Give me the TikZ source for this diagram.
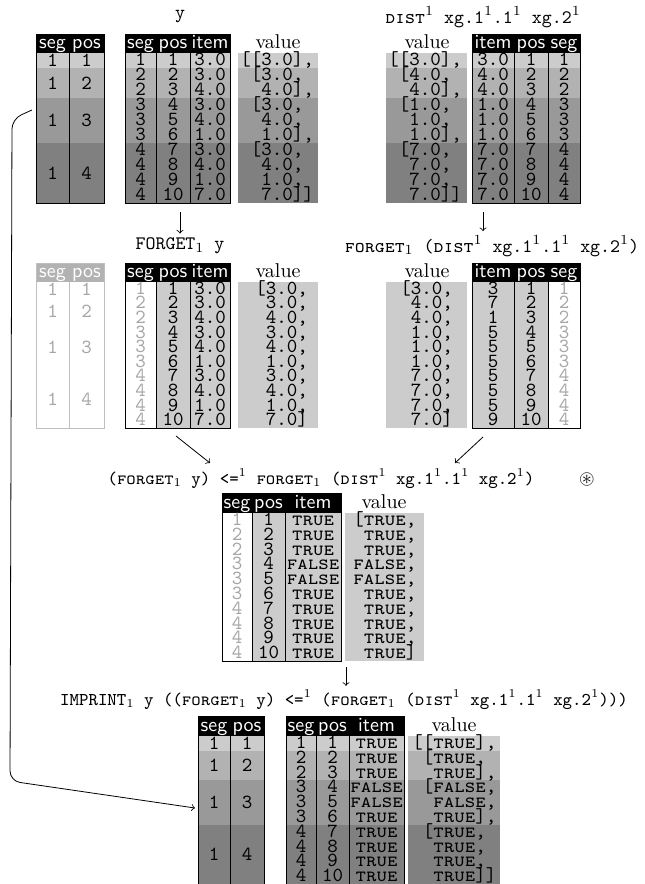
\documentclass[tikz,border=0pt]{standalone}
\usepackage{amssymb}

\colorlet{sgA}{black!20}
\colorlet{sgB}{black!30}
\colorlet{sgC}{black!40}
\colorlet{sgD}{black!50}
\colorlet{faded}{black!35}

\newcommand{\distOne}{\textsc{dist}$^1$}
\newcommand{\fgtOne}{\textsc{forget}$_1$}
\newcommand{\xgArgs}{xg.1$^1$.1$^1$ xg.2$^1$}

\tikzset{
  hdr/.style={font=\sffamily, text=white, inner sep=0pt, anchor=base},
  cell/.style={font=\ttfamily, inner sep=0pt, anchor=base},
  mid/.style={font=\ttfamily, inner sep=0pt},
  vtxt/.style={font=\ttfamily, inner sep=0pt, anchor=base west},
  vhd/.style={inner sep=0pt, anchor=base},
  lbl/.style={font=\fontsize{9.5}{11}\selectfont\ttfamily, inner sep=2pt},
}

\begin{document}
\begin{tikzpicture}[x=0.5pt,y=-0.5pt,line width=0.4pt]
\useasboundingbox (0,0) rectangle (644,884);

%% top row
\node[lbl] (ylbl) at (180,17) {y};
\node[lbl] (dlbl) at (483,17) {\distOne{} \xgArgs};

\foreach \ya/\yb/\c in {53/68/sgA,68/98/sgB,98/143/sgC,143/203/sgD}{
  \fill[\c] (36,\ya) rectangle (104,\yb);
  \fill[\c] (125,\ya) rectangle (230,\yb);
  \fill[\c] (238,\ya) rectangle (318,\yb);
  \fill[\c] (386,\ya) rectangle (467,\yb);
  \fill[\c] (472,\ya) rectangle (580,\yb);
}
\fill (36,34) rectangle (104,53);
\fill (125,34) rectangle (230,53);
\fill (472,34) rectangle (580,53);
\draw (36,34) rectangle (104,203) (69,53) -- (69,203);
\draw (125,34) rectangle (230,203) (156,53) -- (156,203) (190,53) -- (190,203);
\draw (472,34) rectangle (580,203) (514,53) -- (514,203) (548,53) -- (548,203);

\node[hdr] (a1hs) at (52.5,48) {seg};
\node[hdr] (a1hp) at (86.5,48) {pos};
\node[hdr] (b1hs) at (140.5,48) {seg};
\node[hdr] (b1hp) at (173,48) {pos};
\node[hdr] (b1hi) at (210,48) {item};
\node[vhd] (v1h) at (278,48) {value};
\node[vhd] (v2h) at (427,48) {value};
\node[hdr] (c1hi) at (493,48) {item};
\node[hdr] (c1hp) at (531,48) {pos};
\node[hdr] (c1hs) at (564,48) {seg};

\foreach \y/\n in {60.5/1,83/2,120.5/3,173/4}{
  \node[mid] (a1s\n) at (52.5,\y) {1};
  \node[mid] (a1p\n) at (86.5,\y) {\n};
}
\foreach \s/\a/\b/\va/\vb [count=\i] in {
    1/3.0/3.0/{[[3.0],}/{[[3.0],},
    2/3.0/4.0/{~[3.0,}/{~[4.0,},
    2/4.0/4.0/{~~4.0],}/{~~4.0],},
    3/3.0/1.0/{~[3.0,}/{~[1.0,},
    3/4.0/1.0/{~~4.0,}/{~~1.0,},
    3/1.0/1.0/{~~1.0],}/{~~1.0],},
    4/3.0/7.0/{~[3.0,}/{~[7.0,},
    4/4.0/7.0/{~~4.0,}/{~~7.0,},
    4/1.0/7.0/{~~1.0,}/{~~7.0,},
    4/7.0/7.0/{~~7.0]]}/{~~7.0]]}}{
  \node[cell] (b1s\i) at (140.5,{53+15*\i-2.5}) {\s};
  \node[cell] (b1p\i) at (173,{53+15*\i-2.5}) {\i};
  \node[cell] (b1i\i) at (210,{53+15*\i-2.5}) {\a};
  \node[vtxt] (v1l\i) at (240,{53+15*\i-2.5}) {\va};
  \node[vtxt] (v2l\i) at (388,{53+15*\i-2.5}) {\vb};
  \node[cell] (c1i\i) at (493,{53+15*\i-2.5}) {\b};
  \node[cell] (c1p\i) at (531,{53+15*\i-2.5}) {\i};
  \node[cell] (c1s\i) at (564,{53+15*\i-2.5}) {\s};
}

%% middle row
\node[lbl] (fylbl) at (180,246) {FORGET$_1$ y};
\node[lbl] (fdlbl) at (492,246) {\fgtOne{} (\distOne{} \xgArgs)};

\fill[black!30] (36,263) rectangle (104,282);
\draw[black!25] (36,263) rectangle (104,428) (69,282) -- (69,428);
\fill[black!20] (156,282) rectangle (230,428);
\fill[black!20] (238,282) rectangle (318,428);
\fill[black!20] (386,282) rectangle (467,428);
\fill[black!20] (472,282) rectangle (548,428);
\fill (125,263) rectangle (230,282);
\fill (472,263) rectangle (580,282);
\draw (125,263) rectangle (230,428) (156,282) -- (156,428) (190,282) -- (190,428);
\draw (472,263) rectangle (580,428) (514,282) -- (514,428) (548,282) -- (548,428);

\node[hdr] (a2hs) at (52.5,277) {seg};
\node[hdr] (a2hp) at (86.5,277) {pos};
\node[hdr] (b2hs) at (140.5,277) {seg};
\node[hdr] (b2hp) at (173,277) {pos};
\node[hdr] (b2hi) at (210,277) {item};
\node[vhd] (v3h) at (278,277) {value};
\node[vhd] (v4h) at (427,277) {value};
\node[hdr] (c2hi) at (493,277) {item};
\node[hdr] (c2hp) at (531,277) {pos};
\node[hdr] (c2hs) at (564,277) {seg};

\foreach \y/\n in {289.3/1,311.2/2,347.7/3,398.8/4}{
  \node[mid,text=faded] (a2s\n) at (52.5,\y) {1};
  \node[mid,text=faded] (a2p\n) at (86.5,\y) {\n};
}
\foreach \s/\a/\b/\va/\vb [count=\i] in {
    1/3.0/3/{[3.0,}/{[3.0,},
    2/3.0/7/{~3.0,}/{~4.0,},
    2/4.0/1/{~4.0,}/{~4.0,},
    3/3.0/5/{~3.0,}/{~1.0,},
    3/4.0/5/{~4.0,}/{~1.0,},
    3/1.0/5/{~1.0,}/{~1.0,},
    4/3.0/5/{~3.0,}/{~7.0,},
    4/4.0/5/{~4.0,}/{~7.0,},
    4/1.0/5/{~1.0,}/{~7.0,},
    4/7.0/9/{~7.0]}/{~7.0]}}{
  \node[cell,text=faded] (b2s\i) at (140.5,{282+14.6*\i-2.3}) {\s};
  \node[cell] (b2p\i) at (173,{282+14.6*\i-2.3}) {\i};
  \node[cell] (b2i\i) at (210,{282+14.6*\i-2.3}) {\a};
  \node[vtxt] (v3l\i) at (255,{282+14.6*\i-2.3}) {\va};
  \node[vtxt] (v4l\i) at (400,{282+14.6*\i-2.3}) {\vb};
  \node[cell] (c2i\i) at (493,{282+14.6*\i-2.3}) {\b};
  \node[cell] (c2p\i) at (531,{282+14.6*\i-2.3}) {\i};
  \node[cell,text=faded] (c2s\i) at (564,{282+14.6*\i-2.3}) {\s};
}

%% comparison
\node[lbl,font=\fontsize{9}{11}\selectfont\ttfamily] (cmp) at (321,479) {(\fgtOne{} y) <=$^1$ \fgtOne{} (\distOne{} \xgArgs)};
\node (ast) at (587,479) {$\circledast$};

\fill[black!20] (252,513) rectangle (341,661);
\fill[black!20] (345,513) rectangle (424,661);
\fill (222,493) rectangle (341,513);
\draw (222,493) rectangle (341,661) (252,513) -- (252,661) (285,513) -- (285,661);
\node[hdr] (dhs) at (237,508) {seg};
\node[hdr] (dhp) at (268.5,508) {pos};
\node[hdr] (dhi) at (313,508) {item};
\node[vhd] (v5h) at (384,508) {value};

\foreach \s/\t/\v [count=\i] in {
    1/true/{[true,}, 2/true/{~true,}, 2/true/{~true,},
    3/false/{false,}, 3/false/{false,}, 3/true/{~true,},
    4/true/{~true,}, 4/true/{~true,}, 4/true/{~true,}, 4/true/{~true]}}{
  \node[cell,text=faded] (ds\i) at (237,{513+14.8*\i-2.3}) {\s};
  \node[cell] (dp\i) at (268.5,{513+14.8*\i-2.3}) {\i};
  \node[cell] (di\i) at (313,{513+14.8*\i-2.3}) {\textsc{\t}};
  \node[vtxt] (v5l\i) at (353,{513+14.8*\i-2.3}) {\textsc{\v}};
}

%% imprint
\node[lbl,font=\fontsize{9}{11}\selectfont\ttfamily] (implbl) at (344,700) {IMPRINT$_1$ y ((\fgtOne{} y) <=$^1$ (\fgtOne{} (\distOne{} \xgArgs)))};

\foreach \ya/\yb/\c in {736/750.8/sgA,750.8/780.4/sgB,780.4/824.8/sgC,824.8/884/sgD}{
  \fill[\c] (198,\ya) rectangle (264,\yb);
  \fill[\c] (286,\ya) rectangle (404,\yb);
  \fill[\c] (408,\ya) rectangle (500,\yb);
}
\fill (198,716) rectangle (264,736);
\fill (286,716) rectangle (404,736);
\draw (198,716) rectangle (264,884) (230,736) -- (230,884);
\draw (286,716) rectangle (404,884) (316,736) -- (316,884) (349,736) -- (349,884);
\node[hdr] (e1hs) at (214,731) {seg};
\node[hdr] (e1hp) at (247,731) {pos};
\node[hdr] (e2hs) at (301,731) {seg};
\node[hdr] (e2hp) at (332.5,731) {pos};
\node[hdr] (e2hi) at (376.5,731) {item};
\node[vhd] (v6h) at (454,731) {value};

\foreach \y/\n in {743.4/1,765.6/2,802.6/3,854.4/4}{
  \node[mid] (e1s\n) at (214,\y) {1};
  \node[mid] (e1p\n) at (247,\y) {\n};
}
\foreach \s/\t/\v [count=\i] in {
    1/true/{[[true],}, 2/true/{~[true,}, 2/true/{~~true],},
    3/false/{~[false,}, 3/false/{~~false,}, 3/true/{~~true],},
    4/true/{~[true,}, 4/true/{~~true,}, 4/true/{~~true,}, 4/true/{~~true]]}}{
  \node[cell] (e2s\i) at (301,{736+14.8*\i-2.4}) {\s};
  \node[cell] (e2p\i) at (332.5,{736+14.8*\i-2.4}) {\i};
  \node[cell] (e2i\i) at (376.5,{736+14.8*\i-2.4}) {\textsc{\t}};
  \node[vtxt] (v6l\i) at (412,{736+14.8*\i-2.4}) {\textsc{\v}};
}

%% arrows
\coordinate (ybot) at (180,212);
\coordinate (dbot) at (483,212);
\coordinate (fyb) at (176,436);
\coordinate (fdb) at (483,437);
\coordinate (cmpl) at (210,463);
\coordinate (cmpr) at (455,463);
\coordinate (cbot) at (346,667);
\coordinate (yseg) at (32,110);
\coordinate (iseg) at (195,808);
\draw[->] (ybot) -- (ybot |- fylbl.north);
\draw[->] (dbot) -- (dbot |- fdlbl.north);
\draw[->] (fyb) -- (cmpl);
\draw[->] (fdb) -- (cmpr);
\draw[->] (cbot) -- (cbot |- implbl.north);
\draw[->,rounded corners=5pt] (yseg) -- (12,119) -- (10,781) -- (iseg);
\end{tikzpicture}
\end{document}
